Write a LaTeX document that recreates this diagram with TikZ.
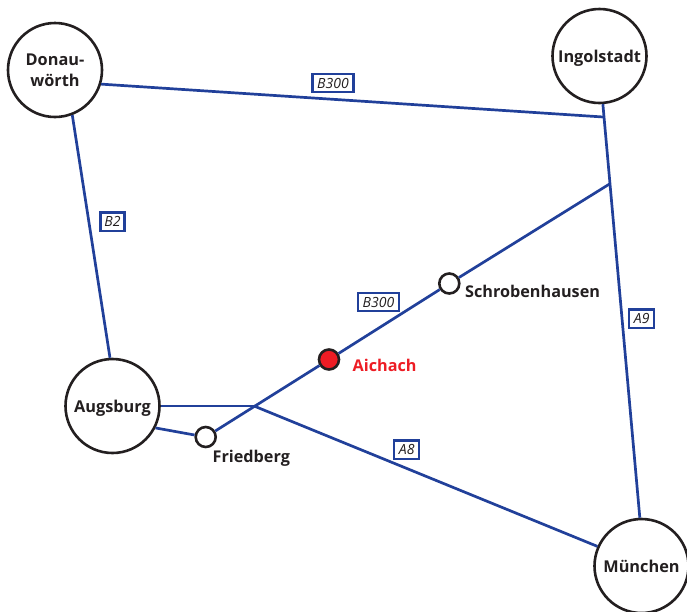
\documentclass[tikz,border=0pt]{standalone}
\usepackage{fontspec}
\setmainfont{Open Sans}
\definecolor{roadblue}{HTML}{21409A}
\definecolor{cityblack}{HTML}{231F20}
\definecolor{markred}{HTML}{ED1C24}
\tikzset{
  city/.style={circle,draw=cityblack,line width=2.6pt,fill=white,minimum size=94pt,inner sep=0pt,align=center,
    text=cityblack,text depth=0pt,font=\fontsize{16.3}{21}\selectfont\bfseries},
  halt/.style={circle,draw=cityblack,line width=2.6pt,fill=white,minimum size=20pt,inner sep=0pt},
  place/.style={anchor=west,inner sep=0pt,text=cityblack,font=\fontsize{16.2}{18}\selectfont\bfseries},
  road/.style={draw=roadblue,line width=2.7pt},
  sign/.style={draw=roadblue,line width=2.4pt,fill=white,minimum height=18.5pt,inner sep=0pt,
    text=cityblack,font=\fontsize{14}{14}\selectfont\itshape}
}
\begin{document}
\begin{tikzpicture}[x=1pt,y=-1pt]
\useasboundingbox (0,0) rectangle (687,611);

\node[city] (donau) at (55,70) {Donau-\\wörth};
\node[city] (ingol) at (599.5,56) {Ingolstadt};
\node[city] (augs)  at (112.5,406) {Augsburg};
\node[city] (muen)  at (641.5,566) {München};

\node[halt] (fried)  at (205.7,437) {};
\node[halt,fill=markred] (aich) at (329,359.5) {};
\node[halt] (schrob) at (449.3,283.5) {};

\coordinate (j1) at (603.3,117);
\coordinate (j2) at (609.5,184);
\coordinate (j3) at (254,406);

\path[road]
    (donau.-17) edge (j1)
    (donau.-69) edge (augs.93)
    (ingol.-86) edge (muen.92)
    (augs.0) edge (j3)
    (j3) edge (muen.156)
    (augs.-27) edge (fried)
    (fried) edge (aich)
    (aich) edge (schrob)
    (schrob) edge (j2);

\node[place] (lfried)  at (212.5,458.5) {Friedberg};
\node[place,text=markred] (laich) at (352.5,365.5) {Aichach};
\node[place] (lschrob) at (465,291) {Schrobenhausen};

\node[sign,minimum width=41pt] (s1) at (333,83) {B300};
\node[sign,minimum width=24pt] (s2) at (112.5,221.7) {B2};
\node[sign,minimum width=41pt] (s3) at (378.5,302) {B300};
\node[sign,minimum width=25pt] (s4) at (406.7,449.7) {A8};
\node[sign,minimum width=25pt] (s5) at (641.7,318.7) {A9};
\end{tikzpicture}
\end{document}
